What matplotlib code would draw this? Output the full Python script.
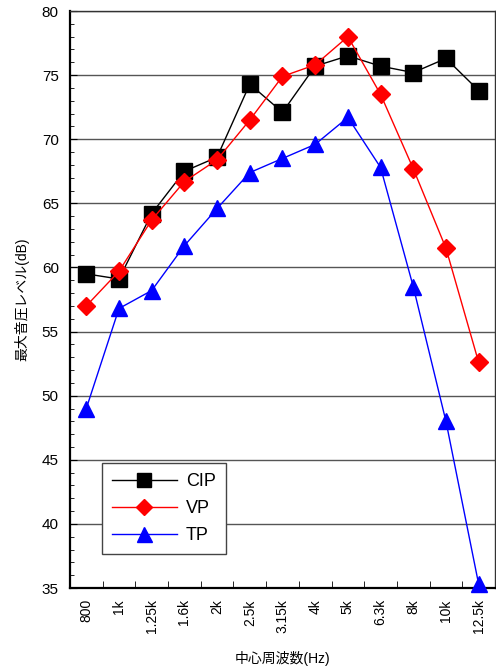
import matplotlib
matplotlib.use("Agg")
import matplotlib.pyplot as plt
import numpy as np
from matplotlib.ticker import MultipleLocator

plt.rcParams['font.family'] = ['Liberation Sans', 'Noto Sans CJK JP', 'DejaVu Sans']

# data
freqs = ['800', '1k', '1.25k', '1.6k', '2k', '2.5k', '3.15k', '4k', '5k', '6.3k', '8k', '10k', '12.5k']
cip = [59.5, 59.1, 64.2, 67.5, 68.6, 74.3, 72.1, 75.7, 76.5, 75.7, 75.2, 76.3, 73.8]
vp = [57.0, 59.7, 63.7, 66.7, 68.4, 71.5, 74.9, 75.8, 78.0, 73.5, 67.7, 61.5, 52.6]
tp = [49.0, 56.8, 58.2, 61.7, 64.6, 67.4, 68.5, 69.6, 71.7, 67.8, 58.5, 48.0, 35.3]

fig = plt.figure(figsize=(4.96, 6.67), dpi=100)
ax = fig.add_axes([0.141, 0.1184, 0.857, 0.8651])

x = np.arange(len(freqs))
ax.plot(x, cip, color='black', marker='s', markersize=11, lw=1, label='CIP', clip_on=False, zorder=3)
ax.plot(x, vp, color='red', marker='D', markersize=9, lw=1, label='VP', clip_on=False, zorder=4)
ax.plot(x, tp, color='blue', marker='^', markersize=12, lw=1, label='TP', clip_on=False, zorder=5)

ax.set_xlim(-0.5, len(freqs) - 0.5)
ax.set_ylim(35, 80)
ax.yaxis.set_major_locator(MultipleLocator(5))
ax.yaxis.set_minor_locator(MultipleLocator(1))
ax.grid(axis='y', which='major', color='#555555', lw=1)
ax.set_axisbelow(True)

ax.set_xticks(x)
ax.set_xticklabels(freqs, rotation=90, fontsize=10)
ax.set_xticks(np.arange(len(freqs) + 1) - 0.5, minor=True)
ax.tick_params(axis='x', which='major', length=0, pad=8)
ax.tick_params(axis='x', which='minor', direction='in', length=5)
ax.tick_params(axis='y', which='major', direction='in', length=5, labelsize=11, pad=8)
ax.tick_params(axis='y', which='minor', direction='in', length=3)

for s in ['left', 'bottom']:
    ax.spines[s].set_linewidth(1.6)
for s in ['top', 'right']:
    ax.spines[s].set_linewidth(1)
    ax.spines[s].set_color('#333333')

ax.set_ylabel('最大音圧レベル(dB)', fontsize=10, labelpad=9)
ax.set_xlabel('中心周波数(Hz)', fontsize=10, labelpad=13)

leg = ax.legend(loc='lower left', bbox_to_anchor=(0.075, 0.059), borderaxespad=0,
                fontsize=13, fancybox=False, edgecolor='#444444', framealpha=1,
                handlelength=3.6, handletextpad=0.5, borderpad=0.55, labelspacing=0.55,
                markerscale=0.9)
leg.get_frame().set_linewidth(1)

fig.savefig('out.png', dpi=100)
